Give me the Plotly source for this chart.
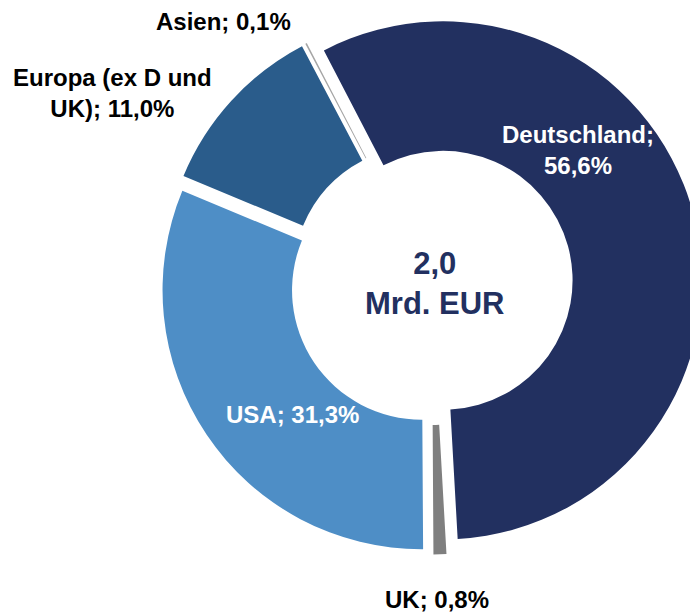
import plotly.graph_objects as go


# =========================
# DATA
# =========================
regions = ["Deutschland", "UK", "USA", "Europa (ex D und UK)", "Asien"]
shares = [56.6, 0.8, 31.3, 11.0, 0.1]
total_text = ["2,0", "Mrd. EUR"]


# =========================
# STYLE
# =========================
W, H = 698, 613
OFFSET = 8               # page body margin shifts the figure by this much
SLICE_COLORS = ["#223060", "#7F7F7F", "#4E8EC6", "#2A5C8B", "#A6A6A6"]
LABEL_COLORS = ["white", "black", "white", "black", "black"]
NAVY = "#223060"
FONT = "Liberation Sans, Arial, sans-serif"

# targets in screen px, converted to figure px below
CX, CY = 431.5 - OFFSET, 283.5 - OFFSET
R = 259
PULL_PX = 12
HALF = R + PULL_PX

LABEL_POS = [(578, 150), (437, 599), (292, 414), (112, 93), (223, 21)]
LINE_BREAKS = [";", None, None, "und", None]


def label_text(region, share, brk):
    txt = f"{region}; {share:.1f}%".replace(".", ",")
    if brk:
        txt = txt.replace(brk + " ", brk + "<br>", 1)
    return f"<b>{txt}</b>"


def to_paper(px, py):
    return (px - OFFSET) / W, 1 - (py - OFFSET) / H


fig = go.Figure()

fig.add_trace(go.Pie(
    labels=regions,
    values=shares,
    sort=False,
    direction="clockwise",
    rotation=-27.4,
    hole=0.5,
    pull=[PULL_PX / R] * len(regions),
    marker=dict(colors=SLICE_COLORS, line=dict(width=0)),
    textinfo="none",
    hoverinfo="label+percent",
    showlegend=False,
    domain=dict(
        x=[(CX - HALF) / W, min((CX + HALF) / W, 1)],
        y=[(H - CY - HALF) / H, (H - CY + HALF) / H],
    ),
))

annotations = []
for region, share, brk, col, pos in zip(regions, shares, LINE_BREAKS, LABEL_COLORS, LABEL_POS):
    x, y = to_paper(*pos)
    annotations.append(dict(
        text=label_text(region, share, brk),
        x=x, y=y,
        xref="paper", yref="paper",
        xanchor="center", yanchor="middle",
        showarrow=False,
        borderpad=0,
        font=dict(family=FONT, size=24, color=col),
    ))

tx, ty = to_paper(435, 283)
annotations.append(dict(
    text="<b>" + "<br>".join(total_text) + "</b>",
    x=tx, y=ty,
    xref="paper", yref="paper",
    xanchor="center", yanchor="middle",
    showarrow=False,
    font=dict(family=FONT, size=31, color=NAVY),
))

fig.update_layout(
    width=W,
    height=H,
    margin=dict(l=0, r=0, t=0, b=0),
    paper_bgcolor="white",
    plot_bgcolor="white",
    annotations=annotations,
)

fig.write_html("out.html")
